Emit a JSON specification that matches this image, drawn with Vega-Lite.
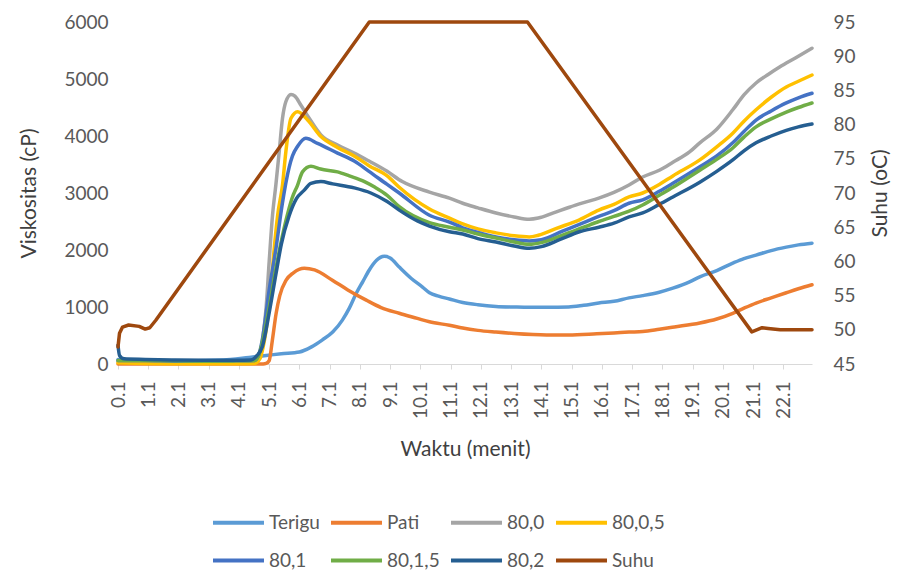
{
  "$schema": "https://vega.github.io/schema/vega-lite/v6.json",
  "width": 694,
  "height": 342,
  "autosize": "none",
  "padding": {"left": 118, "top": 22, "right": 87, "bottom": 211},
  "background": "white",
  "config": {
    "view": {"stroke": null},
    "font": "Lato",
    "axis": {"labelFont": "Lato", "titleFont": "Lato", "labelColor": "#595959", "titleColor": "#404040", "titleFontWeight": "normal", "grid": false, "labelOverlap": false},
    "axisX": {"labelOverlap": false},
    "legend": {"labelFont": "Lato"}
  },
  "datasets": {
    "visc": [
      {"s":"Terigu","t":0.1,"v":80},{"s":"Terigu","t":0.5,"v":60},{"s":"Terigu","t":1,"v":55},{"s":"Terigu","t":2,"v":50},{"s":"Terigu","t":3,"v":60},{"s":"Terigu","t":4,"v":90},{"s":"Terigu","t":4.5,"v":120},{"s":"Terigu","t":5,"v":150},{"s":"Terigu","t":5.5,"v":180},{"s":"Terigu","t":6.1,"v":210},{"s":"Terigu","t":6.5,"v":300},{"s":"Terigu","t":6.85,"v":420},{"s":"Terigu","t":7.2,"v":560},{"s":"Terigu","t":7.52,"v":770},{"s":"Terigu","t":7.75,"v":980},{"s":"Terigu","t":7.98,"v":1240},{"s":"Terigu","t":8.2,"v":1450},{"s":"Terigu","t":8.41,"v":1650},{"s":"Terigu","t":8.65,"v":1820},{"s":"Terigu","t":8.91,"v":1890},{"s":"Terigu","t":9.1,"v":1860},{"s":"Terigu","t":9.4,"v":1700},{"s":"Terigu","t":9.8,"v":1500},{"s":"Terigu","t":10.17,"v":1350},{"s":"Terigu","t":10.4,"v":1250},{"s":"Terigu","t":10.7,"v":1190},{"s":"Terigu","t":11.06,"v":1140},{"s":"Terigu","t":11.5,"v":1080},{"s":"Terigu","t":12.0,"v":1040},{"s":"Terigu","t":12.6,"v":1010},{"s":"Terigu","t":13.2,"v":1000},{"s":"Terigu","t":13.7,"v":995},{"s":"Terigu","t":14.3,"v":995},{"s":"Terigu","t":15.0,"v":1000},{"s":"Terigu","t":15.5,"v":1030},{"s":"Terigu","t":16.0,"v":1070},{"s":"Terigu","t":16.5,"v":1100},{"s":"Terigu","t":17.0,"v":1160},{"s":"Terigu","t":17.45,"v":1200},{"s":"Terigu","t":18.0,"v":1260},{"s":"Terigu","t":18.45,"v":1330},{"s":"Terigu","t":19.0,"v":1440},{"s":"Terigu","t":19.34,"v":1530},{"s":"Terigu","t":19.9,"v":1640},{"s":"Terigu","t":20.43,"v":1770},{"s":"Terigu","t":20.8,"v":1850},{"s":"Terigu","t":21.2,"v":1910},{"s":"Terigu","t":21.7,"v":1990},{"s":"Terigu","t":22.2,"v":2050},{"s":"Terigu","t":22.6,"v":2090},{"s":"Terigu","t":23.05,"v":2120},
      {"s":"Pati","t":0.1,"v":0},{"s":"Pati","t":4.9,"v":0},{"s":"Pati","t":5.0,"v":10},{"s":"Pati","t":5.1,"v":60},{"s":"Pati","t":5.2,"v":400},{"s":"Pati","t":5.33,"v":890},{"s":"Pati","t":5.45,"v":1200},{"s":"Pati","t":5.66,"v":1470},{"s":"Pati","t":5.9,"v":1600},{"s":"Pati","t":6.26,"v":1680},{"s":"Pati","t":6.6,"v":1650},{"s":"Pati","t":7.19,"v":1470},{"s":"Pati","t":7.7,"v":1300},{"s":"Pati","t":8.31,"v":1120},{"s":"Pati","t":8.8,"v":990},{"s":"Pati","t":9.4,"v":890},{"s":"Pati","t":10.0,"v":800},{"s":"Pati","t":10.4,"v":740},{"s":"Pati","t":11.06,"v":680},{"s":"Pati","t":11.5,"v":630},{"s":"Pati","t":12.0,"v":590},{"s":"Pati","t":12.6,"v":560},{"s":"Pati","t":13.2,"v":535},{"s":"Pati","t":14.27,"v":510},{"s":"Pati","t":15.0,"v":510},{"s":"Pati","t":15.93,"v":530},{"s":"Pati","t":16.5,"v":545},{"s":"Pati","t":17.0,"v":560},{"s":"Pati","t":17.45,"v":570},{"s":"Pati","t":18.0,"v":610},{"s":"Pati","t":18.5,"v":650},{"s":"Pati","t":19.34,"v":720},{"s":"Pati","t":19.9,"v":790},{"s":"Pati","t":20.43,"v":890},{"s":"Pati","t":20.8,"v":980},{"s":"Pati","t":21.2,"v":1070},{"s":"Pati","t":21.7,"v":1160},{"s":"Pati","t":22.2,"v":1250},{"s":"Pati","t":22.6,"v":1320},{"s":"Pati","t":23.05,"v":1390},
      {"s":"80,0","t":0.1,"v":40},{"s":"80,0","t":1,"v":30},{"s":"80,0","t":2,"v":20},{"s":"80,0","t":3,"v":20},{"s":"80,0","t":4,"v":20},{"s":"80,0","t":4.6,"v":30},{"s":"80,0","t":4.77,"v":100},{"s":"80,0","t":4.9,"v":500},{"s":"80,0","t":5.0,"v":1000},{"s":"80,0","t":5.1,"v":1800},{"s":"80,0","t":5.21,"v":2610},{"s":"80,0","t":5.32,"v":3140},{"s":"80,0","t":5.43,"v":3720},{"s":"80,0","t":5.54,"v":4310},{"s":"80,0","t":5.65,"v":4600},{"s":"80,0","t":5.82,"v":4730},{"s":"80,0","t":5.95,"v":4700},{"s":"80,0","t":6.15,"v":4540},{"s":"80,0","t":6.4,"v":4330},{"s":"80,0","t":6.81,"v":4020},{"s":"80,0","t":7.36,"v":3840},{"s":"80,0","t":7.91,"v":3700},{"s":"80,0","t":8.4,"v":3560},{"s":"80,0","t":9.0,"v":3380},{"s":"80,0","t":9.5,"v":3200},{"s":"80,0","t":10.4,"v":3015},{"s":"80,0","t":11.06,"v":2910},{"s":"80,0","t":11.5,"v":2820},{"s":"80,0","t":12.0,"v":2740},{"s":"80,0","t":12.6,"v":2650},{"s":"80,0","t":13.2,"v":2580},{"s":"80,0","t":13.7,"v":2540},{"s":"80,0","t":14.0,"v":2560},{"s":"80,0","t":14.5,"v":2650},{"s":"80,0","t":15.03,"v":2750},{"s":"80,0","t":15.5,"v":2830},{"s":"80,0","t":16.0,"v":2910},{"s":"80,0","t":16.5,"v":3010},{"s":"80,0","t":17.0,"v":3140},{"s":"80,0","t":17.45,"v":3280},{"s":"80,0","t":18.0,"v":3400},{"s":"80,0","t":18.45,"v":3540},{"s":"80,0","t":19.0,"v":3720},{"s":"80,0","t":19.34,"v":3880},{"s":"80,0","t":19.9,"v":4120},{"s":"80,0","t":20.43,"v":4460},{"s":"80,0","t":20.8,"v":4720},{"s":"80,0","t":21.2,"v":4930},{"s":"80,0","t":21.6,"v":5080},{"s":"80,0","t":21.98,"v":5210},{"s":"80,0","t":22.5,"v":5370},{"s":"80,0","t":23.05,"v":5540},
      {"s":"80,0,5","t":0.1,"v":20},{"s":"80,0,5","t":1,"v":10},{"s":"80,0,5","t":2,"v":5},{"s":"80,0,5","t":3,"v":5},{"s":"80,0,5","t":4,"v":5},{"s":"80,0,5","t":4.6,"v":10},{"s":"80,0,5","t":4.8,"v":100},{"s":"80,0,5","t":4.9,"v":300},{"s":"80,0,5","t":5.0,"v":600},{"s":"80,0,5","t":5.15,"v":1300},{"s":"80,0,5","t":5.27,"v":2050},{"s":"80,0,5","t":5.38,"v":2610},{"s":"80,0,5","t":5.54,"v":3140},{"s":"80,0,5","t":5.65,"v":3720},{"s":"80,0,5","t":5.82,"v":4310},{"s":"80,0,5","t":6.04,"v":4425},{"s":"80,0,5","t":6.37,"v":4280},{"s":"80,0,5","t":6.81,"v":3990},{"s":"80,0,5","t":7.36,"v":3800},{"s":"80,0,5","t":7.91,"v":3650},{"s":"80,0,5","t":8.4,"v":3480},{"s":"80,0,5","t":9.0,"v":3300},{"s":"80,0,5","t":9.4,"v":3100},{"s":"80,0,5","t":10.4,"v":2720},{"s":"80,0,5","t":11.06,"v":2560},{"s":"80,0,5","t":11.5,"v":2460},{"s":"80,0,5","t":12.0,"v":2370},{"s":"80,0,5","t":12.6,"v":2300},{"s":"80,0,5","t":13.2,"v":2250},{"s":"80,0,5","t":13.7,"v":2230},{"s":"80,0,5","t":14.0,"v":2260},{"s":"80,0,5","t":14.6,"v":2380},{"s":"80,0,5","t":15.36,"v":2530},{"s":"80,0,5","t":16.0,"v":2700},{"s":"80,0,5","t":16.5,"v":2800},{"s":"80,0,5","t":17.0,"v":2930},{"s":"80,0,5","t":17.45,"v":3000},{"s":"80,0,5","t":18.0,"v":3150},{"s":"80,0,5","t":18.45,"v":3300},{"s":"80,0,5","t":19.34,"v":3580},{"s":"80,0,5","t":19.9,"v":3810},{"s":"80,0,5","t":20.43,"v":4050},{"s":"80,0,5","t":20.8,"v":4260},{"s":"80,0,5","t":21.2,"v":4460},{"s":"80,0,5","t":21.7,"v":4680},{"s":"80,0,5","t":22.2,"v":4860},{"s":"80,0,5","t":22.6,"v":4960},{"s":"80,0,5","t":23.05,"v":5070},
      {"s":"80,1","t":0.1,"v":60},{"s":"80,1","t":1,"v":60},{"s":"80,1","t":2,"v":50},{"s":"80,1","t":3,"v":50},{"s":"80,1","t":4,"v":55},{"s":"80,1","t":4.6,"v":60},{"s":"80,1","t":4.75,"v":150},{"s":"80,1","t":4.87,"v":420},{"s":"80,1","t":5.1,"v":1300},{"s":"80,1","t":5.33,"v":2050},{"s":"80,1","t":5.53,"v":2800},{"s":"80,1","t":5.76,"v":3450},{"s":"80,1","t":5.87,"v":3650},{"s":"80,1","t":6.04,"v":3820},{"s":"80,1","t":6.31,"v":3960},{"s":"80,1","t":6.7,"v":3870},{"s":"80,1","t":7.36,"v":3700},{"s":"80,1","t":7.91,"v":3560},{"s":"80,1","t":8.4,"v":3380},{"s":"80,1","t":9.0,"v":3150},{"s":"80,1","t":9.4,"v":3000},{"s":"80,1","t":10.4,"v":2610},{"s":"80,1","t":11.06,"v":2490},{"s":"80,1","t":11.5,"v":2390},{"s":"80,1","t":12.0,"v":2310},{"s":"80,1","t":12.6,"v":2230},{"s":"80,1","t":13.2,"v":2180},{"s":"80,1","t":13.7,"v":2160},{"s":"80,1","t":14.1,"v":2180},{"s":"80,1","t":14.8,"v":2330},{"s":"80,1","t":15.5,"v":2480},{"s":"80,1","t":16.0,"v":2590},{"s":"80,1","t":16.5,"v":2690},{"s":"80,1","t":17.0,"v":2820},{"s":"80,1","t":17.45,"v":2880},{"s":"80,1","t":18.0,"v":3030},{"s":"80,1","t":18.45,"v":3170},{"s":"80,1","t":19.34,"v":3460},{"s":"80,1","t":19.9,"v":3650},{"s":"80,1","t":20.43,"v":3880},{"s":"80,1","t":20.8,"v":4080},{"s":"80,1","t":21.2,"v":4280},{"s":"80,1","t":21.7,"v":4440},{"s":"80,1","t":22.2,"v":4580},{"s":"80,1","t":22.6,"v":4670},{"s":"80,1","t":23.05,"v":4750},
      {"s":"80,1,5","t":0.1,"v":60},{"s":"80,1,5","t":1,"v":60},{"s":"80,1,5","t":2,"v":55},{"s":"80,1,5","t":3,"v":50},{"s":"80,1,5","t":4,"v":55},{"s":"80,1,5","t":4.6,"v":60},{"s":"80,1,5","t":4.75,"v":150},{"s":"80,1,5","t":4.87,"v":370},{"s":"80,1,5","t":5.1,"v":1000},{"s":"80,1,5","t":5.33,"v":1700},{"s":"80,1,5","t":5.66,"v":2530},{"s":"80,1,5","t":5.85,"v":2900},{"s":"80,1,5","t":6.04,"v":3140},{"s":"80,1,5","t":6.2,"v":3370},{"s":"80,1,5","t":6.48,"v":3470},{"s":"80,1,5","t":6.8,"v":3420},{"s":"80,1,5","t":7.36,"v":3370},{"s":"80,1,5","t":7.75,"v":3300},{"s":"80,1,5","t":8.25,"v":3200},{"s":"80,1,5","t":8.6,"v":3100},{"s":"80,1,5","t":9.0,"v":2960},{"s":"80,1,5","t":9.4,"v":2760},{"s":"80,1,5","t":10.4,"v":2480},{"s":"80,1,5","t":11.06,"v":2400},{"s":"80,1,5","t":11.5,"v":2350},{"s":"80,1,5","t":12.0,"v":2280},{"s":"80,1,5","t":12.6,"v":2210},{"s":"80,1,5","t":13.2,"v":2140},{"s":"80,1,5","t":13.7,"v":2100},{"s":"80,1,5","t":14.1,"v":2130},{"s":"80,1,5","t":14.8,"v":2260},{"s":"80,1,5","t":15.5,"v":2400},{"s":"80,1,5","t":16.0,"v":2500},{"s":"80,1,5","t":16.5,"v":2590},{"s":"80,1,5","t":17.0,"v":2680},{"s":"80,1,5","t":17.45,"v":2790},{"s":"80,1,5","t":18.0,"v":2960},{"s":"80,1,5","t":18.45,"v":3100},{"s":"80,1,5","t":19.34,"v":3400},{"s":"80,1,5","t":19.9,"v":3590},{"s":"80,1,5","t":20.43,"v":3790},{"s":"80,1,5","t":20.8,"v":3980},{"s":"80,1,5","t":21.2,"v":4160},{"s":"80,1,5","t":21.7,"v":4300},{"s":"80,1,5","t":22.2,"v":4420},{"s":"80,1,5","t":22.6,"v":4500},{"s":"80,1,5","t":23.05,"v":4580},
      {"s":"80,2","t":0.1,"v":330},{"s":"80,2","t":0.15,"v":150},{"s":"80,2","t":0.3,"v":90},{"s":"80,2","t":1,"v":80},{"s":"80,2","t":2,"v":70},{"s":"80,2","t":3,"v":65},{"s":"80,2","t":4,"v":65},{"s":"80,2","t":4.5,"v":70},{"s":"80,2","t":4.7,"v":150},{"s":"80,2","t":4.87,"v":300},{"s":"80,2","t":5.1,"v":900},{"s":"80,2","t":5.33,"v":1600},{"s":"80,2","t":5.5,"v":2100},{"s":"80,2","t":5.76,"v":2600},{"s":"80,2","t":6.0,"v":2900},{"s":"80,2","t":6.26,"v":3050},{"s":"80,2","t":6.48,"v":3170},{"s":"80,2","t":6.81,"v":3200},{"s":"80,2","t":7.2,"v":3160},{"s":"80,2","t":7.91,"v":3090},{"s":"80,2","t":8.46,"v":3000},{"s":"80,2","t":9.0,"v":2850},{"s":"80,2","t":9.4,"v":2700},{"s":"80,2","t":10.0,"v":2510},{"s":"80,2","t":10.4,"v":2420},{"s":"80,2","t":11.06,"v":2320},{"s":"80,2","t":11.5,"v":2280},{"s":"80,2","t":12.0,"v":2200},{"s":"80,2","t":12.6,"v":2140},{"s":"80,2","t":13.2,"v":2070},{"s":"80,2","t":13.7,"v":2030},{"s":"80,2","t":14.1,"v":2060},{"s":"80,2","t":14.7,"v":2180},{"s":"80,2","t":15.36,"v":2320},{"s":"80,2","t":16.0,"v":2400},{"s":"80,2","t":16.5,"v":2470},{"s":"80,2","t":17.0,"v":2580},{"s":"80,2","t":17.45,"v":2650},{"s":"80,2","t":18.0,"v":2800},{"s":"80,2","t":18.45,"v":2930},{"s":"80,2","t":19.34,"v":3190},{"s":"80,2","t":19.9,"v":3380},{"s":"80,2","t":20.43,"v":3580},{"s":"80,2","t":20.8,"v":3740},{"s":"80,2","t":21.2,"v":3880},{"s":"80,2","t":21.7,"v":4000},{"s":"80,2","t":22.2,"v":4100},{"s":"80,2","t":22.6,"v":4160},{"s":"80,2","t":23.05,"v":4210}
    ],
    "suhu": [
      {"s":"Suhu","t":0.1,"c":47.5},{"s":"Suhu","t":0.15,"c":49.5},{"s":"Suhu","t":0.25,"c":50.4},{"s":"Suhu","t":0.45,"c":50.7},{"s":"Suhu","t":0.8,"c":50.5},{"s":"Suhu","t":1.0,"c":50.1},{"s":"Suhu","t":1.15,"c":50.3},{"s":"Suhu","t":1.35,"c":51.4},{"s":"Suhu","t":8.41,"c":95},{"s":"Suhu","t":13.64,"c":95},{"s":"Suhu","t":21.06,"c":49.7},{"s":"Suhu","t":21.4,"c":50.3},{"s":"Suhu","t":21.6,"c":50.2},{"s":"Suhu","t":22.0,"c":50.0},{"s":"Suhu","t":23.05,"c":50.0}
    ]
  },
  "layer": [
    {
      "data": {"name": "visc"},
      "mark": {"type": "line", "strokeWidth": 3.5, "strokeCap": "round", "strokeJoin": "round", "interpolate": "monotone"},
      "encoding": {
        "x": {"field": "t", "type": "quantitative", "scale": {"domain": [0.1, 23.05], "nice": false, "zero": false},
              "axis": {"title": "Waktu (menit)", "values": [0.1,1.1,2.1,3.1,4.1,5.1,6.1,7.1,8.1,9.1,10.1,11.1,12.1,13.1,14.1,15.1,16.1,17.1,18.1,19.1,20.1,21.1,22.1], "format": ".1f", "labelAngle": -90, "labelOverlap": false, "labelFontSize": 19, "labelPadding": 12, "tickSize": 5, "tickColor": "#d9d9d9", "domainColor": "#d9d9d9", "titleFontSize": 21, "titlePadding": 20}},
        "y": {"field": "v", "type": "quantitative", "scale": {"domain": [0, 6000], "nice": false},
              "axis": {"title": "Viskositas (cP)", "values": [0,1000,2000,3000,4000,5000,6000], "format": "d", "domain": false, "ticks": false, "labelFontSize": 19, "labelPadding": 10, "titleFontSize": 21, "titlePadding": 24}},
        "color": {"field": "s", "type": "nominal", "sort": null,
                  "scale": {"domain": ["Terigu","Pati","80,0","80,0,5","80,1","80,1,5","80,2","Suhu"], "range": ["#5B9BD5","#ED7D31","#A5A5A5","#FFC000","#4472C4","#70AD47","#255E91","#9E480E"]},
                  "legend": {"title": null, "orient": "none", "legendX": 93, "legendY": 473, "direction": "horizontal", "columns": 4, "symbolType": "stroke", "symbolSize": 2600, "symbolStrokeWidth": 4, "labelFontSize": 19, "labelColor": "#595959", "columnPadding": 3, "rowPadding": -8, "labelOffset": 3, "padding": 0}}
      }
    },
    {
      "data": {"name": "suhu"},
      "mark": {"type": "line", "strokeWidth": 3.5, "strokeCap": "round", "strokeJoin": "round"},
      "encoding": {
        "x": {"field": "t", "type": "quantitative", "axis": {"values": [0.1,1.1,2.1,3.1,4.1,5.1,6.1,7.1,8.1,9.1,10.1,11.1,12.1,13.1,14.1,15.1,16.1,17.1,18.1,19.1,20.1,21.1,22.1], "labelOverlap": false}},
        "y": {"field": "c", "type": "quantitative", "scale": {"domain": [45, 95], "nice": false, "zero": false},
              "axis": {"title": "Suhu (oC)", "orient": "right", "values": [45,50,55,60,65,70,75,80,85,90,95], "domain": false, "ticks": false, "labelFontSize": 19, "labelPadding": 21, "titleFontSize": 21, "titleAngle": -90, "titleX": 68, "titleY": 171, "titleAlign": "center", "titleBaseline": "middle"}},
        "color": {"field": "s", "type": "nominal", "sort": null}
      }
    }
  ],
  "resolve": {"scale": {"y": "independent"}}
}
